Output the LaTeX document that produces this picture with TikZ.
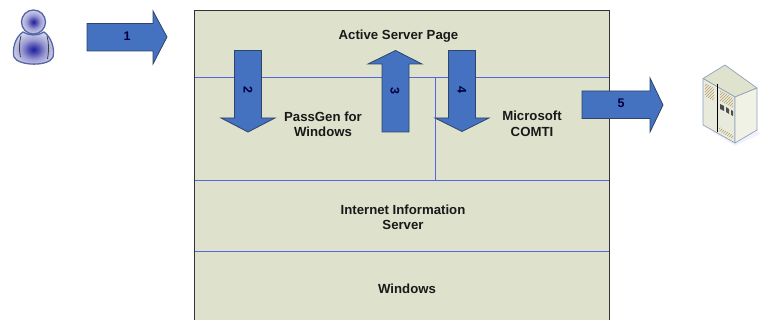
\documentclass[tikz,border=0pt]{standalone}
\usepackage{fontspec}
\setmainfont{Liberation Sans}
\usetikzlibrary{patterns}
\definecolor{panelfill}{HTML}{DEE1CC}
\definecolor{panelline}{HTML}{5566DD}
\definecolor{arrowfill}{HTML}{4472C0}
\definecolor{arrowline}{HTML}{2E4468}
\definecolor{frameline}{HTML}{333333}
\definecolor{personline}{HTML}{5566A8}
\definecolor{personcore}{HTML}{1E1E9C}
\definecolor{srvface}{HTML}{E8EADC}
\definecolor{srvtop}{HTML}{DFE2CC}
\definecolor{srvside}{HTML}{F0F2E6}
\definecolor{srvline}{HTML}{8FA0B8}
\definecolor{srvtan}{HTML}{B89C6C}
\pgfdeclareradialshading{personshade}{\pgfpointorigin}{
  color(0bp)=(personcore); color(6bp)=(personcore!78!white);
  color(14bp)=(personcore!45!white); color(24bp)=(personcore!22!white); color(36bp)=(personcore!6!white); color(50bp)=(white)}
\tikzset{
  flow/.style={draw=arrowline,fill=arrowfill,line width=0.8pt,line join=miter},
  lbl/.style={font=\fontsize{13.2}{15.5}\selectfont\bfseries,align=center,text=black!90,inner sep=0pt},
  num/.style={font=\fontsize{12.5}{14}\selectfont\bfseries,text=black!75!blue,inner sep=0pt},
  divider/.style={draw=panelline,line width=1pt},
  persona/.style={draw=personline,line width=1.3pt,shading=personshade},
}
\begin{document}
\begin{tikzpicture}[x=1pt,y=-1pt]
\useasboundingbox (0,0) rectangle (761,320);
% panel
\fill[panelfill] (194.5,11) rectangle (609,321);
\draw[divider] (194.5,77.5) -- (609,77.5);
\draw[divider] (194.5,180.5) -- (609,180.5);
\draw[divider] (194.5,251.5) -- (609,251.5);
\draw[divider] (435.5,77.5) -- (435.5,180.5);
\draw[frameline,line width=1pt] (194.5,321) -- (194.5,11) -- (609,11) -- (609,321);
% labels
\node[lbl] (asp) at (398.5,36) {Active Server Page};
\node[lbl] (passgen) at (323,124.5) {PassGen for\\Windows};
\node[lbl] (comti) at (532,124) {Microsoft\\COMTI};
\node[lbl] (iis) at (403,217.5) {Internet Information\\Server};
\node[lbl] (win) at (407,289) {Windows};
% arrows
\draw[flow] (87,23.5) -- (153,23.5) -- (153,11) -- (167,37) -- (153,64) -- (153,51) -- (87,51) -- cycle;
\node[num] (n1) at (127,36) {1};
\draw[flow] (234.5,50.5) -- (261.5,50.5) -- (261.5,118) -- (275,118) -- (248,132) -- (221,118) -- (234.5,118) -- cycle;
\node[num,rotate=-90] (n2) at (248,90) {2};
\draw[flow] (382,132) -- (409,132) -- (409,64) -- (422,64) -- (395.5,50.5) -- (368,64) -- (382,64) -- cycle;
\node[num,rotate=-90] (n3) at (395,91) {3};
\draw[flow] (448.5,50.5) -- (475.5,50.5) -- (475.5,118) -- (489,118) -- (462,131.5) -- (435,118) -- (448.5,118) -- cycle;
\node[num,rotate=-90] (n4) at (462,90) {4};
\draw[flow] (582,91) -- (650,91) -- (650,78) -- (663,105) -- (650,132) -- (650,118.5) -- (582,118.5) -- cycle;
\node[num] (n5) at (621,103) {5};
% person
\path[persona] (23,32) .. controls (15,37) and (12,50) .. (14,57) .. controls (18,66) and (49,67) .. (53,57) .. controls (55,48) and (51,37) .. (44,32) .. controls (38,36) and (29,36) .. (23,32) -- cycle;
\path[persona] (33.5,22) circle (12);
\draw[black!75,line width=0.8pt] (21,36) .. controls (19,43) and (19,50) .. (20.5,57);
\draw[black!75,line width=0.8pt] (47,36) .. controls (49,43) and (49,50) .. (47.5,59);
% server
\fill[blue!15!white,opacity=0.35] (712,132) -- (735,146) -- (760,134) -- (757,128) -- cycle;
\filldraw[fill=srvtop,draw=srvline,line width=0.7pt,line join=round] (703,78.5) -- (725,65) -- (757,88) -- (735,97) -- cycle;
\filldraw[fill=srvface,draw=srvline,line width=0.7pt,line join=round] (703,78.5) -- (735,97) -- (735,143) -- (703,125) -- cycle;
\filldraw[fill=srvside,draw=srvline,line width=0.7pt,line join=round] (735,97) -- (757,88) -- (757,130) -- (735,143) -- cycle;
\fill[pattern=north east lines,pattern color=srvtan] (705,83) -- (714,88) -- (714,101) -- (705,96) -- cycle;
\fill[pattern=north east lines,pattern color=srvtan] (720,90) -- (733,98) -- (733,108) -- (720,101) -- cycle;
\fill[pattern=north east lines,pattern color=srvtan] (719,127) -- (733,135) -- (733,139) -- (719,131) -- cycle;
\fill[black!70] (720,104) -- (724,106) -- (724,111) -- (720,109) -- cycle;
\fill[black!70] (726,107) -- (729,109) -- (729,114) -- (726,112) -- cycle;
\fill[black!70] (731,110) -- (733,111) -- (733,116) -- (731,115) -- cycle;
\draw[black,line width=1.6pt] (717.5,84) -- (717.5,132);
\end{tikzpicture}
\end{document}
